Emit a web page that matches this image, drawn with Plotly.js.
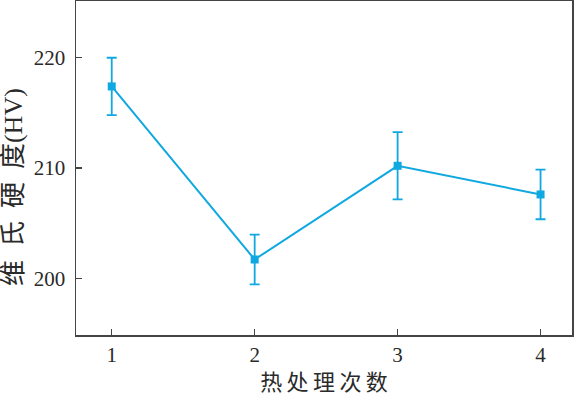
<!DOCTYPE html>
<html><head><meta charset="utf-8">
<script src="https://cdn.plot.ly/plotly-3.0.1.min.js"></script>
<style>body{margin:0;background:#fff}#c{width:577px;height:395px}</style>
</head><body><div id="c"></div>
<script>
const cycles = [1, 2, 3, 4];
const hardness = [217.4, 201.7, 210.2, 207.6];
const errors = [2.6, 2.25, 3.05, 2.25];
const xTickLabels = ['1', '2', '3', '4'];
const yTicks = [200, 210, 220];
const xTitle = '热\u2009处\u2009理\u2009次\u2009数';
const yTitle = '维\u2002氏\u2002硬\u2002度(HV)';

const color = '#10a8e0';
const fontFam = '"Liberation Serif", "Times New Roman", "Noto Sans CJK SC", serif';
const txt = '#2a2a2a';

Plotly.newPlot('c', [{
  x: cycles, y: hardness, type: 'scatter', mode: 'lines+markers',
  line: {color: color, width: 2},
  marker: {symbol: 'square', size: 8, color: color},
  error_y: {type: 'data', array: errors, visible: true, color: color, thickness: 1.8, width: 5}
}], {
  width: 577, height: 395,
  margin: {l: 76, r: 5, t: 1, b: 60},
  paper_bgcolor: '#fff', plot_bgcolor: '#fff',
  showlegend: false,
  font: {family: fontFam, color: txt},
  xaxis: {
    range: [0.75, 4.22], tickvals: cycles, ticktext: xTickLabels,
    ticks: 'inside', ticklen: 6, tickcolor: '#444', tickwidth: 1.2,
    showline: true, linecolor: '#444', linewidth: 1.5, mirror: true,
    showgrid: false, zeroline: false,
    tickfont: {size: 21, family: fontFam, color: txt},
    title: {text: xTitle, font: {size: 22, family: fontFam, color: txt}, standoff: 9}
  },
  yaxis: {
    range: [194.85, 225.15], tickvals: yTicks,
    ticks: 'inside', ticklen: 6, tickcolor: '#444', tickwidth: 1.2,
    showline: true, linecolor: '#444', linewidth: 1.5, mirror: true,
    showgrid: false, zeroline: false, ticklabelstandoff: 5,
    tickfont: {size: 21, family: fontFam, color: txt}
  },
  annotations: [{
    text: yTitle, textangle: -90, xref: 'paper', yref: 'paper',
    x: -0.127, y: 0.443, xanchor: 'center', yanchor: 'middle', showarrow: false,
    font: {size: 26, family: fontFam, color: txt}
  }]
}, {staticPlot: true});
</script></body></html>
